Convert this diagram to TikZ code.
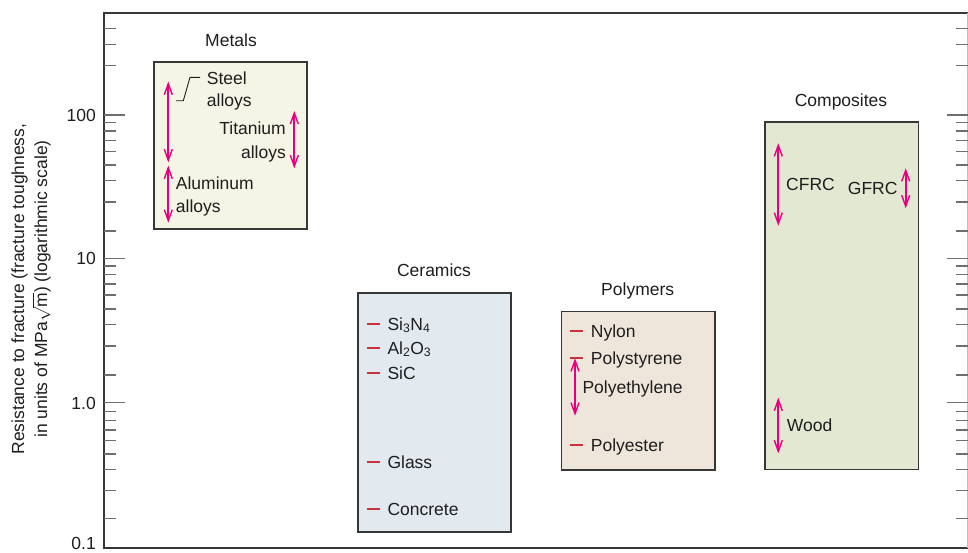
\documentclass[tikz,border=0pt]{standalone}
\usepackage{fontspec}
\setmainfont{Liberation Sans}
\usetikzlibrary{arrows.meta,positioning}
\definecolor{metalfill}{RGB}{245,245,230}
\definecolor{ceramfill}{RGB}{226,234,240}
\definecolor{polyfill}{RGB}{239,230,219}
\definecolor{compfill}{RGB}{226,232,210}
\definecolor{boxline}{RGB}{55,55,55}
\definecolor{rangepink}{RGB}{230,0,126}
\definecolor{dashred}{RGB}{200,50,60}
\definecolor{tickgray}{RGB}{110,110,110}
\definecolor{inkgray}{RGB}{30,30,30}

\begin{document}
\begin{tikzpicture}[x=1pt,y=-1pt,
    font=\fontsize{17.5}{23}\selectfont,text=inkgray,
    box/.style={draw=boxline,line width=1.6pt},
    frameline/.style={draw=boxline,line width=2pt},
    minortick/.style={draw=tickgray,line width=1.4pt},
    rangebar/.style={draw=rangepink,line width=2pt,
        {Straight Barb[length=11pt,width=8pt,line width=1.4pt]}-{Straight Barb[length=11pt,width=8pt,line width=1.4pt]}},
    reddash/.style={draw=dashred,line width=2pt},
    txt/.style={inner sep=0pt,yshift=-6.3pt}]
  \useasboundingbox (0,0) rectangle (968,552);
  % frame and ticks
  \draw[frameline] (968,12.5) -- (104,12.5) -- (104,548) -- (968,548);
  \draw[draw=gray!50,line width=1pt] (967.5,12.5) -- (967.5,548);
  \foreach \y in {28.3,44.3,65.7,122.3,131,140.3,151.7,165,180.7,202,231,266,274.3,284,295,309,324.3,346,375,411.7,420.7,430,440.7,454,469.3,490.3,518.7} {
    \draw[minortick] (104,\y) -- (116,\y);
    \draw[minortick] (968,\y) -- (956,\y);
  }
  \foreach \y/\v in {115/100,258.3/10,402.7/1.0} {
    \draw[minortick] (104,\y) -- (125,\y);
    \draw[minortick] (968,\y) -- (947,\y);
    \node[txt,anchor=base east] (tick\v) at (96,\y) {\v};
  }
  \node[txt,anchor=base east] (tickbottom) at (96,543) {0.1};
  \node[rotate=90,align=center,inner sep=0pt] (ylabel) at (31,289)
    {Resistance to fracture (fracture toughness,\\in units of MPa\ensuremath{\sqrt{\hbox{m}}}) (logarithmic scale)};
  % metals
  \draw[box,fill=metalfill] (154,61.7) rectangle (307,228.7);
  \node[txt,anchor=base] (metals) at (231,40) {Metals};
  \draw[rangebar] (168.3,81.7) -- (168.3,162.3);
  \draw[rangebar] (168.3,165.7) -- (168.3,222.7);
  \draw[rangebar] (294.3,111) -- (294.3,168.3);
  \node[txt,anchor=base west] (steel) at (206.7,78) {Steel};
  \node[txt,anchor=base west] (steel2) at (206.7,100.4) {alloys};
  \draw[line width=0.9pt,draw=inkgray] (176,100.7) -- (183.3,100.7) -- (190,77.3) -- (200,77.3);
  \node[txt,anchor=base east] (titanium) at (286,128.3) {Titanium};
  \node[txt,anchor=base east] (titanium2) at (286,152.3) {alloys};
  \node[txt,anchor=base west] (aluminum) at (175.7,183.3) {Aluminum};
  \node[txt,anchor=base west] (aluminum2) at (175.7,205.7) {alloys};
  % ceramics
  \draw[box,fill=ceramfill] (357.7,292.7) rectangle (511,531.7);
  \node[txt,anchor=base] (ceramics) at (434,270) {Ceramics};
  \foreach \y/\name in {324/Si\textsubscript{3}N\textsubscript{4},348/Al\textsubscript{2}O\textsubscript{3},373/SiC,462/Glass,509/Concrete} {
    \draw[reddash] (367,\y) -- (380,\y);
    \node[txt,anchor=base west] at (387.3,\y) {\name};
  }
  % polymers
  \draw[box,fill=polyfill] (561.3,311.3) rectangle (715,470);
  \node[txt,anchor=base] (polymers) at (637.7,289) {Polymers};
  \foreach \y/\name in {331/Nylon,358/Polystyrene,445/Polyester} {
    \draw[reddash] (570,\y) -- (583,\y);
    \node[txt,anchor=base west] at (590.7,\y) {\name};
  }
  \draw[rangebar] (575,358.3) -- (575,415.7);
  \node[txt,anchor=base west] (polyethylene) at (582.3,387.3) {Polyethylene};
  % composites
  \draw[box,fill=compfill] (765,121.7) rectangle (918.3,469.3);
  \node[txt,anchor=base] (composites) at (841,100) {Composites};
  \draw[rangebar] (778.3,143.3) -- (778.3,225.7);
  \draw[rangebar] (905.7,168.3) -- (905.7,208.3);
  \draw[rangebar] (778.3,397.7) -- (778.3,453.3);
  \node[txt,anchor=base west] (cfrc) at (786,184.3) {CFRC};
  \node[txt,anchor=base east] (gfrc) at (897.7,188.3) {GFRC};
  \node[txt,anchor=base west] (wood) at (786.7,425) {Wood};
\end{tikzpicture}
\end{document}
